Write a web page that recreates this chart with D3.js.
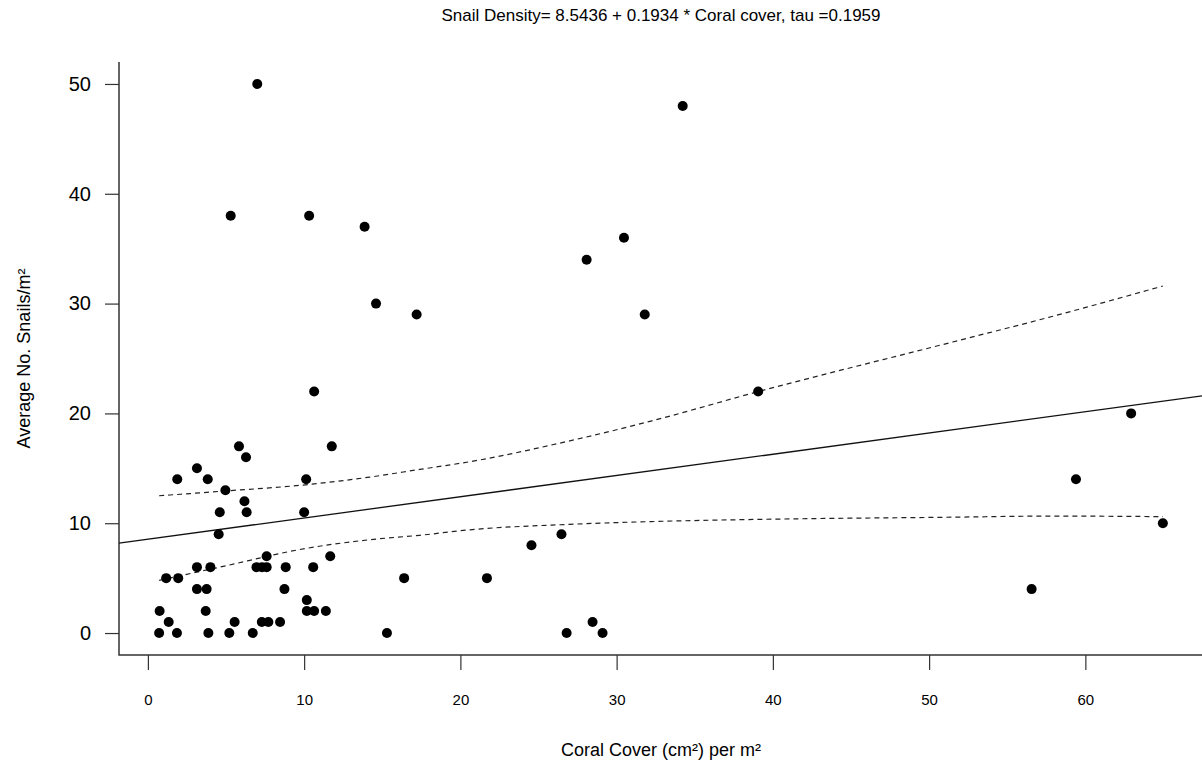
<!DOCTYPE html>
<html lang="en">
<head>
<meta charset="utf-8">
<title>Snail density vs coral cover</title>
<script src="https://d3js.org/d3.v7.min.js"></script>
<style>
    body { margin: 0; background: #fff; }
    svg text { font-family: "Liberation Sans", Arial, sans-serif; fill: #000; }
</style>
</head>
<body>
<script>
// data
var coralCover = [0.72,0.75,1.17,1.33,1.86,1.88,1.94,3.14,3.14,3.14,3.70,3.76,3.83,3.87,4.00,
    4.53,4.60,4.96,5.21,5.30,5.55,5.83,6.18,6.28,6.32,6.71,6.95,7.00,7.30,7.29,7.60,7.60,7.71,
    8.46,8.74,8.82,10.00,10.13,10.17,10.17,10.32,10.58,10.64,10.64,11.39,11.67,11.77,13.87,14.60,
    15.30,16.40,17.20,21.70,24.55,26.47,26.80,28.08,28.46,29.10,30.47,31.80,34.23,39.06,
    56.56,59.40,62.93,64.96];
var snailDensity = [0,2,5,1,0,14,5,15,6,4,2,4,14,0,6,
    9,11,13,0,38,1,17,12,16,11,0,6,50,6,1,6,7,1,
    1,4,6,11,14,3,2,38,6,2,22,2,7,17,37,30,
    0,5,29,5,8,9,0,34,1,0,36,29,48,22,
    4,14,20,10];

// fitted line
var intercept = 8.5436;
var slope = 0.1934;

// dashed band
var bandX     = [0.72, 4.6, 10.1, 14.2, 17.4, 20.6, 27.0, 32.2, 39.1, 51.5, 57.8, 64.96];
var bandUpper = [12.5, 12.9, 13.5, 14.2, 14.9, 15.6, 17.5, 19.3, 22.0, 26.5, 28.8, 31.6];
var bandLower = [4.8, 6.0, 7.7, 8.5, 8.9, 9.4, 9.9, 10.15, 10.35, 10.55, 10.65, 10.6];

var xTicks = [0, 10, 20, 30, 40, 50, 60];
var yTicks = [0, 10, 20, 30, 40, 50];

var titleText = "Snail Density= 8.5436 + 0.1934 * Coral cover, tau =0.1959";
var xTitle = "Coral Cover (cm\u00B2) per m\u00B2";
var yTitle = "Average No. Snails/m\u00B2";

var w = 1202, h = 774;
var pl = 119, pr = 1203, pt = 62, pb = 655;

var svg = d3.select("body").append("svg")
    .attr("width", w)
    .attr("height", h);

// R style 4% padding around the data range
var xr = d3.extent(coralCover), xpad = (xr[1] - xr[0]) * 0.04;
var x = d3.scaleLinear()
    .domain([xr[0] - xpad, xr[1] + xpad])
    .range([pl, pr]);
var yr = d3.extent(snailDensity), ypad = (yr[1] - yr[0]) * 0.04;
var y = d3.scaleLinear()
    .domain([yr[0] - ypad, yr[1] + ypad])
    .range([pb, pt]);

// x axis
var gx = svg.append("g")
    .attr("transform", "translate(0," + pb + ")")
    .call(d3.axisBottom(x).tickValues(xTicks).tickSize(15).tickPadding(24).tickSizeOuter(0));
gx.select(".domain").remove();
gx.selectAll("line").attr("stroke", "#333").attr("stroke-width", 1.2);
gx.selectAll("text").attr("font-size", "15px").attr("fill", "#000");

// y axis
var gy = svg.append("g")
    .attr("transform", "translate(" + pl + ",0)")
    .call(d3.axisLeft(y).tickValues(yTicks).tickSize(14).tickPadding(14).tickSizeOuter(0));
gy.select(".domain").remove();
gy.selectAll("line").attr("stroke", "#333").attr("stroke-width", 1.2);
gy.selectAll("text").attr("font-size", "20px").attr("fill", "#000");

// L shaped box
svg.append("path")
    .attr("d", "M" + pl + "," + pt + "V" + pb + "H" + w)
    .attr("fill", "none")
    .attr("stroke", "#333")
    .attr("stroke-width", 1.5);

// band curves
var curve = d3.line()
    .x(function(d) { return x(d[0]); })
    .y(function(d) { return y(d[1]); })
    .curve(d3.curveMonotoneX);

[bandUpper, bandLower].forEach(function(vals) {
    svg.append("path")
        .datum(bandX.map(function(v, i) { return [v, vals[i]]; }))
        .attr("d", curve)
        .attr("fill", "none")
        .attr("stroke", "#222")
        .attr("stroke-width", 1.2)
        .attr("stroke-dasharray", "5,4");
});

// regression line across the whole plot
var xd = x.domain();
svg.append("line")
    .attr("x1", x(xd[0])).attr("y1", y(intercept + slope * xd[0]))
    .attr("x2", x(xd[1])).attr("y2", y(intercept + slope * xd[1]))
    .attr("stroke", "#111")
    .attr("stroke-width", 1.3);

// points
svg.selectAll("circle.pt")
    .data(coralCover)
    .enter().append("circle")
    .attr("class", "pt")
    .attr("cx", function(d) { return x(d); })
    .attr("cy", function(d, i) { return y(snailDensity[i]); })
    .attr("r", 5)
    .attr("fill", "#000");

// titles
svg.append("text")
    .attr("x", (pl + pr) / 2)
    .attr("y", 21)
    .attr("text-anchor", "middle")
    .attr("font-size", "17px")
    .text(titleText);

svg.append("text")
    .attr("x", (pl + pr) / 2)
    .attr("y", 756)
    .attr("text-anchor", "middle")
    .attr("font-size", "18px")
    .text(xTitle);

svg.append("text")
    .attr("transform", "translate(30," + ((pt + pb) / 2) + ") rotate(-90)")
    .attr("text-anchor", "middle")
    .attr("font-size", "18px")
    .text(yTitle);
</script>
</body>
</html>
